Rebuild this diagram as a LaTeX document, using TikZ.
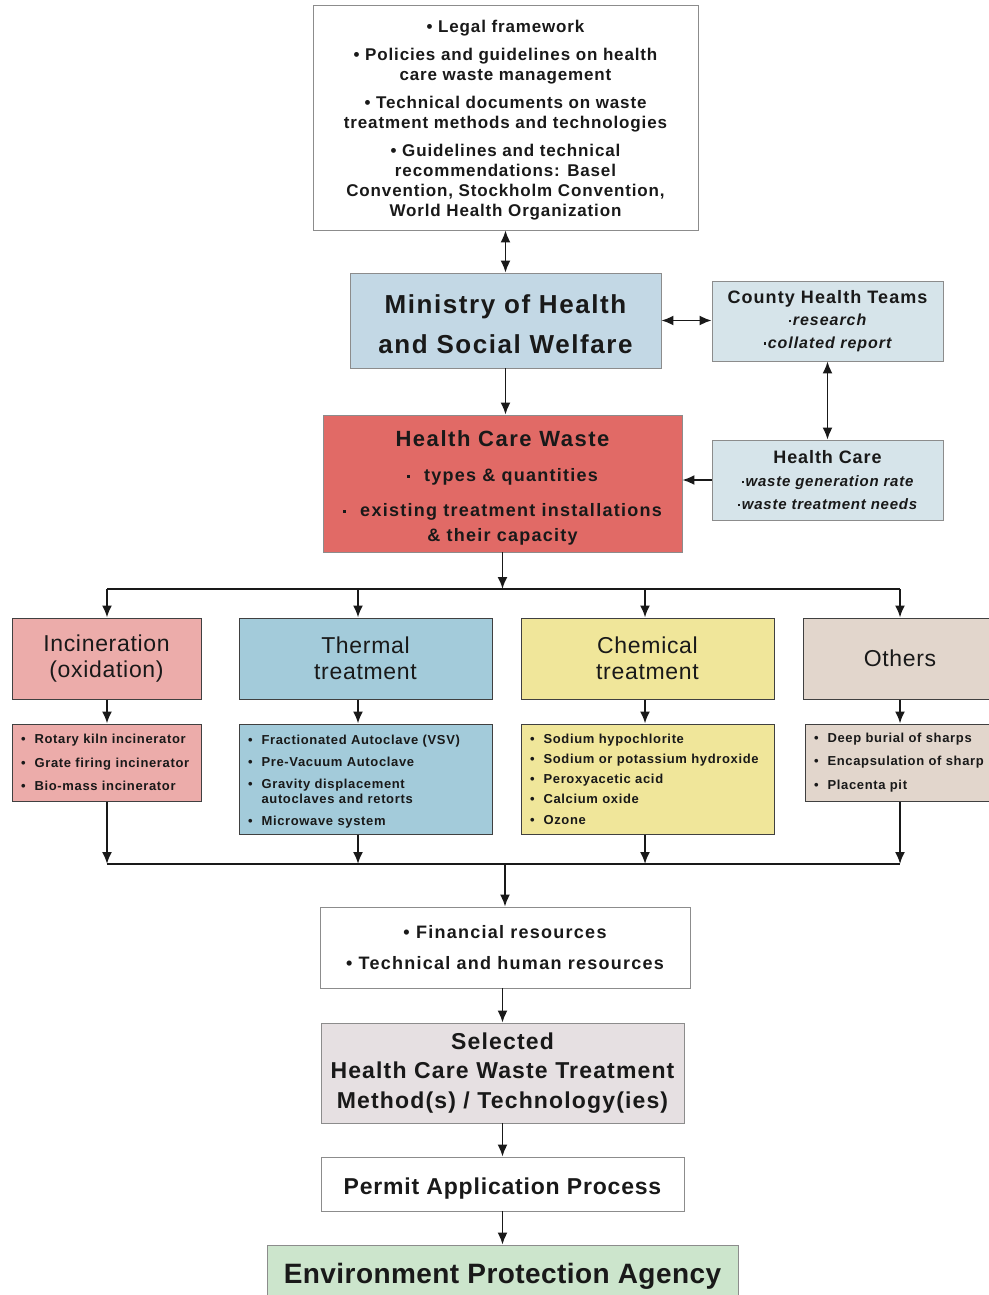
\documentclass[tikz,border=0pt]{standalone}
\usepackage{fontspec}
\setmainfont{Liberation Sans}[LetterSpace=5]
\usepackage{tikz}
\usetikzlibrary{shapes}
\usetikzlibrary{arrows.meta}
\usetikzlibrary{positioning}
\usetikzlibrary{calc}
\definecolor{bleumin}{HTML}{C3D8E5}
\definecolor{bleuclair}{HTML}{D6E4EA}
\definecolor{rouge}{HTML}{E16A66}
\definecolor{rose}{HTML}{ECACAA}
\definecolor{bleuther}{HTML}{A3CBDA}
\definecolor{jaune}{HTML}{F0E69A}
\definecolor{beige}{HTML}{E2D6CC}
\definecolor{grisclair}{HTML}{E6E0E2}
\definecolor{vert}{HTML}{CCE5CC}
\tikzstyle{boite}=[rectangle,draw=black!45,line width=0.8pt,inner sep=0pt,align=center,text=black!90]
\tikzstyle{categorie}=[rectangle,draw=black!75,line width=1pt,inner sep=0pt,align=center,
        font=\fontsize{23}{26}\selectfont\addfontfeature{LetterSpace=3},text=black!90]
\tikzstyle{liste}=[rectangle,draw=black!75,line width=1pt,inner xsep=9pt,inner ysep=0pt,align=left,
        font=\fontsize{13}{15}\selectfont\bfseries,text=black!90]
\tikzstyle{suite}=[-{Latex[length=12pt,width=10pt]},line width=1.9pt,black!90]
\tikzstyle{allerretour}=[{Latex[length=12pt,width=10pt]}-{Latex[length=12pt,width=10pt]},line width=1.9pt,black!90]
\tikzstyle{bus}=[line width=1.9pt,black!90]
\newcommand{\puce}{•\hspace*{9pt}}
\newcommand{\retrait}{\hphantom{•}\hspace*{9pt}}
\newcommand{\carre}{\rule[0.22em]{0.17em}{0.17em}\hspace{1.5pt}}
\newcommand{\cale}[1]{\rule{0pt}{#1}}

\begin{document}
\begin{tikzpicture}[x=1pt,y=-1pt]
\useasboundingbox (0,0) rectangle (988,1295);
\node[boite,minimum width=385pt,minimum height=225pt,font=\fontsize{17}{20}\selectfont\bfseries] (cadre) at (505.5,117.5)
  {\cale{18.5pt}• Legal framework\\[8pt] • Policies and guidelines on health\\ care waste management\\[8pt]
   • Technical documents on waste\\ treatment methods and technologies\\[8pt]
   • Guidelines and technical\\ recommendations: Basel\\ Convention, Stockholm Convention,\\ World Health Organization};
\node[boite,fill=bleumin,minimum width=311pt,minimum height=95pt,font=\fontsize{26}{40}\selectfont\bfseries\addfontfeature{LetterSpace=6}] (min) at (505.5,320.5)
  {\cale{27pt}Ministry of Health\\ and Social Welfare};
\node[boite,fill=bleuclair,minimum width=231pt,minimum height=80pt,font=\fontsize{16}{22.5}\selectfont\bfseries\itshape\addfontfeature{LetterSpace=6}] (cht) at (827.5,321)
  {{\fontsize{18}{22.5}\selectfont\upshape County Health Teams}\\ \carre research\\ \carre collated report};
\node[boite,fill=rouge,minimum width=359pt,minimum height=137pt,font=\fontsize{18}{25}\selectfont\bfseries\addfontfeature{LetterSpace=7}] (hcw) at (502.5,483.5)
  {\cale{25pt}{\fontsize{22}{25}\selectfont Health Care Waste}\\[10pt] \carre\ \ types \& quantities\\[10pt]
   \carre\ \ existing treatment installations\\ \& their capacity};
\node[boite,fill=bleuclair,minimum width=231pt,minimum height=80pt,font=\fontsize{15}{23}\selectfont\bfseries\itshape\addfontfeature{LetterSpace=5}] (hc) at (827.5,480)
  {{\fontsize{18}{23}\selectfont\upshape Health Care}\\ \carre waste generation rate\\ \carre waste treatment needs};
%categories
\node[categorie,fill=rose,minimum width=189pt,minimum height=81pt] (inc) at (106.5,658.5) {Incineration\\ (oxidation)};
\node[categorie,fill=bleuther,minimum width=253pt,minimum height=81pt] (the) at (365.5,658.5) {Thermal\\ treatment};
\node[categorie,fill=jaune,minimum width=253pt,minimum height=81pt] (chi) at (647.5,658.5) {Chemical\\ treatment};
\node[categorie,fill=beige,minimum width=194pt,minimum height=81pt] (aut) at (900,658.5) {Others};
\node[liste,fill=rose,text width=171pt,minimum height=77pt] (linc) at (106.5,762.5)
  {\puce Rotary kiln incinerator\\[8.5pt] \puce Grate firing incinerator\\[8.5pt] \puce Bio-mass incinerator};
\node[liste,fill=bleuther,text width=235pt,minimum height=110pt] (lthe) at (365.5,779)
  {\cale{15.5pt}\puce Fractionated Autoclave (VSV)\\[7pt] \puce Pre-Vacuum Autoclave\\[7pt] \puce Gravity displacement\\
   \retrait autoclaves and retorts\\[7pt] \puce Microwave system};
\node[liste,fill=jaune,text width=235pt,minimum height=110pt] (lchi) at (647.5,779)
  {\puce Sodium hypochlorite\\[5.2pt] \puce Sodium or potassium hydroxide\\[5.2pt] \puce Peroxyacetic acid\\[5.2pt]
   \puce Calcium oxide\\[5.2pt] \puce Ozone};
\node[liste,fill=beige,text width=174pt,minimum height=77pt] (laut) at (901,762.5)
  {\puce Deep burial of sharps\\[8.5pt] \puce Encapsulation of sharp\\[8.5pt] \puce Placenta pit};
%bas
\node[boite,minimum width=370pt,minimum height=81pt,font=\fontsize{18}{31}\selectfont\bfseries\addfontfeature{LetterSpace=7}] (res) at (505,947.5)
  {• Financial resources\\ • Technical and human resources};
\node[boite,fill=grisclair,minimum width=363pt,minimum height=100pt,font=\fontsize{23}{29.5}\selectfont\bfseries] (sel) at (502.5,1073)
  {Selected\\ Health Care Waste Treatment\\ Method(s) / Technology(ies)};
\node[boite,minimum width=363pt,minimum height=54pt,font=\fontsize{23}{27}\selectfont\bfseries\addfontfeature{LetterSpace=3.5}] (per) at (502.5,1184)
  {\cale{25pt}Permit Application Process};
\node[boite,fill=vert,minimum width=471pt,minimum height=55pt,font=\fontsize{28}{32}\selectfont\bfseries\addfontfeature{LetterSpace=1.5}] (epa) at (502.5,1272.5)
  {\cale{27pt}Environment Protection Agency};
\coordinate (k1) at (107,589);
\coordinate (k2) at (358,589);
\coordinate (k3) at (645,589);
\coordinate (k4) at (900,589);
\coordinate (j1) at (107,864);
\coordinate (j2) at (358,864);
\coordinate (j3) at (645,864);
\coordinate (j4) at (900,864);
%fleches
\draw[allerretour] (cadre.south) -- (min.north);
\draw[allerretour] (min.east) -- (cht.west |- min.east);
\draw[allerretour] (cht.south) -- (hc.north);
\draw[suite] (min.south) -- (min.south |- hcw.north);
\draw[suite] (hc.west) -- (hc.west -| hcw.east);
\draw[suite] (hcw.south) -- (hcw.south |- k1);
\draw[bus] (k1) -- (k4);
\draw[suite] (k1) -- (k1 |- inc.north);
\draw[suite] (k2) -- (k2 |- the.north);
\draw[suite] (k3) -- (k3 |- chi.north);
\draw[suite] (k4) -- (k4 |- aut.north);
\draw[suite] (k1 |- inc.south) -- (k1 |- linc.north);
\draw[suite] (k2 |- the.south) -- (k2 |- lthe.north);
\draw[suite] (k3 |- chi.south) -- (k3 |- lchi.north);
\draw[suite] (k4 |- aut.south) -- (k4 |- laut.north);
\draw[suite] (k1 |- linc.south) -- (j1);
\draw[suite] (k2 |- lthe.south) -- (j2);
\draw[suite] (k3 |- lchi.south) -- (j3);
\draw[suite] (k4 |- laut.south) -- (j4);
\draw[bus] (j1) -- (j4);
\draw[suite] (res.north |- j1) -- (res.north);
\draw[suite] (sel.north |- res.south) -- (sel.north);
\draw[suite] (sel.south) -- (per.north);
\draw[suite] (per.south) -- (epa.north);
\end{tikzpicture}
\end{document}
